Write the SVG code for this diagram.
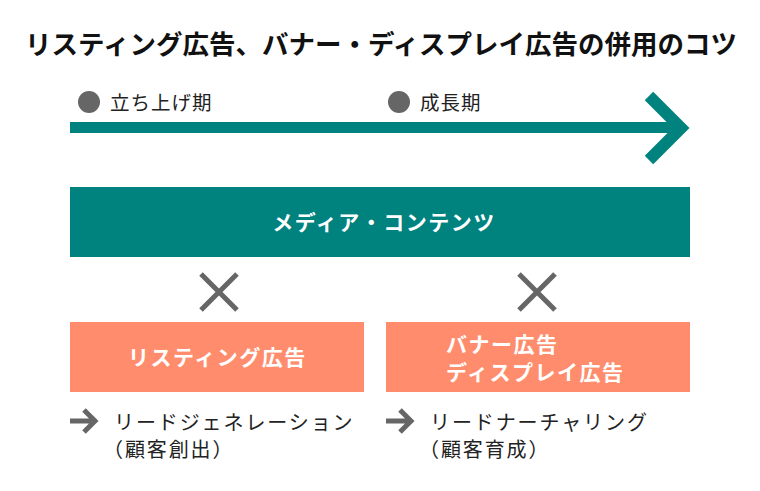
<svg xmlns="http://www.w3.org/2000/svg" width="760" height="491" viewBox="0 0 760 491">
<style>
.jp{font-family:"Noto Sans CJK JP","Noto Sans",sans-serif}
.title{font-size:26.5px;font-weight:bold;fill:#111}
.lbl{font-size:19.5px;fill:#222;letter-spacing:1px}
.wb{font-size:21px;font-weight:bold;fill:#fff;letter-spacing:1.5px}
.sub{font-size:20px;fill:#222;letter-spacing:1.9px}
.teal{fill:#00827F}
.orange{fill:#FF8D6D}
.gray{fill:#666}
.xm{stroke:#666;stroke-width:5;fill:none}
.ga{stroke:#666;stroke-width:5;fill:none}
</style>
<rect width="760" height="491" fill="#fff"/>
<text class="jp title" x="381" y="54" text-anchor="middle">リスティング広告、バナー・ディスプレイ広告の併用のコツ</text>

<g id="timeline">
<rect x="70" y="122" width="612" height="11" class="teal"/>
<polyline points="649,96 681,128 649,160" fill="none" stroke="#00827F" stroke-width="12"/>
</g>
<g id="phase1">
<circle cx="89" cy="102" r="11" class="gray"/>
<text class="jp lbl" x="110" y="110">立ち上げ期</text>
</g>
<g id="phase2">
<circle cx="399" cy="102" r="11" class="gray"/>
<text class="jp lbl" x="420" y="110">成長期</text>
</g>

<g id="media">
<rect x="70" y="187" width="620" height="70" class="teal"/>
<text class="jp wb" x="384" y="230" text-anchor="middle">メディア・コンテンツ</text>
</g>

<g id="connectors">
<path class="xm" d="M201,274 L237,310 M237,274 L201,310"/>
<path class="xm" d="M519,274 L555,310 M555,274 L519,310"/>
<path class="ga" d="M70,421 L94,421 M84,410 L95,421 L84,432"/>
<path class="ga" d="M386,421 L410,421 M400,410 L411,421 L400,432"/>
</g>

<g id="listing">
<rect x="70" y="322" width="294" height="70" class="orange"/>
<text class="jp wb" x="128" y="365">リスティング広告</text>
</g>
<g id="banner">
<rect x="386" y="322" width="304" height="70" class="orange"/>
<text class="jp wb" x="446" y="352">バナー広告</text>
<text class="jp wb" x="446" y="380">ディスプレイ広告</text>
</g>

<g id="leadgen">
<text class="jp sub" x="114" y="430">リードジェネレーション</text>
<text class="jp sub" x="103" y="457">（顧客創出）</text>
</g>
<g id="nurturing">
<text class="jp sub" x="430" y="430">リードナーチャリング</text>
<text class="jp sub" x="419" y="457">（顧客育成）</text>
</g>
</svg>
